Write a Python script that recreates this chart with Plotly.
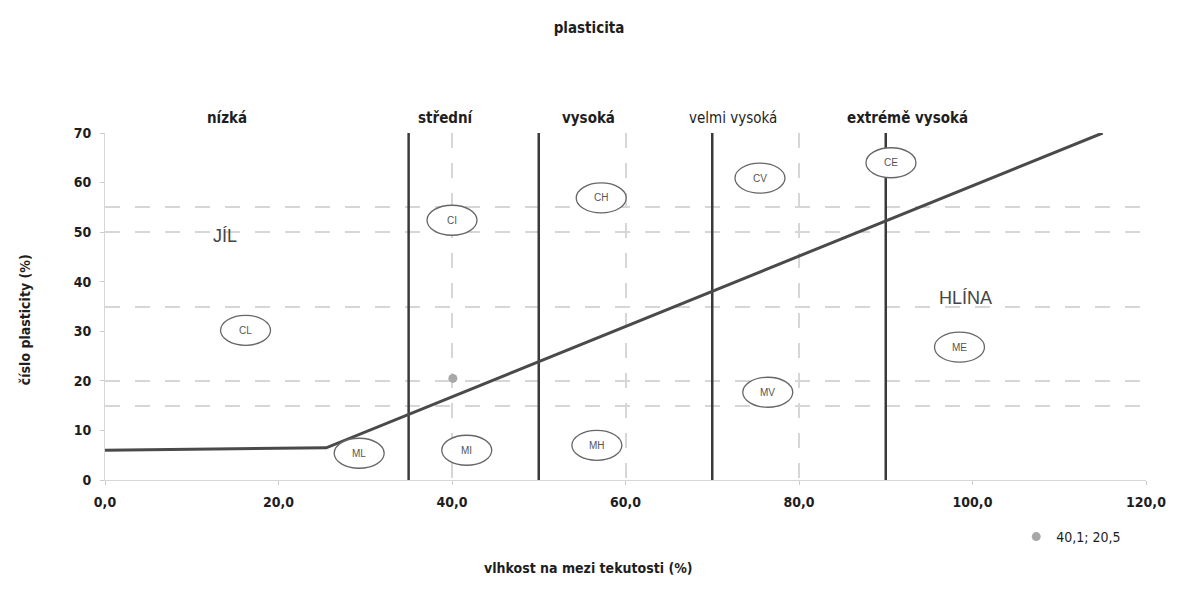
import plotly.graph_objects as go

# ---- data ----
x_ticks = [0, 20, 40, 60, 80, 100, 120]
x_ticktext = ["0,0", "20,0", "40,0", "60,0", "80,0", "100,0", "120,0"]
x_grid_levels = [40, 60, 80, 120]
y_ticks = [0, 10, 20, 30, 40, 50, 60, 70]
y_grid_levels = [0, 15, 20, 35, 50, 55, 70]

# A-line (boundary clay / silt)
aline_x = [0, 25.5, 115]
aline_y = [6, 6.5, 70]

# plasticity zone boundaries (liquid limit)
zone_bounds = [35, 50, 70, 90]
zone_names = ["nízká", "střední", "vysoká", "velmi vysoká", "extrémě vysoká"]
zone_label_x = [14.1, 39.3, 55.7, 72.4, 92.5]
zone_bold = [True, True, True, False, True]

# soil class labels (in ellipses)
cls_names = ["CL", "ML", "CI", "MI", "CH", "MH", "CV", "MV", "CE", "ME"]
cls_x = [16.2, 29.3, 40.0, 41.7, 57.2, 56.7, 75.5, 76.4, 90.6, 98.5]
cls_y = [30.2, 5.4, 52.4, 6.0, 56.9, 7.0, 60.9, 17.7, 64.0, 26.8]

# region names
region_names = ["JÍL", "HLÍNA"]
region_x = [13.8, 99.2]
region_y = [49.2, 36.7]

# measured sample
sample_x = [40.1]
sample_y = [20.5]
sample_label = "40,1; 20,5"

FONT = "DejaVu Sans Condensed, Liberation Sans Narrow, Arial Narrow, sans-serif"
PLAIN = "Liberation Sans, Arial, sans-serif"
TXT = "#1e1e1e"

# page body has an 8px margin; plot area is at page px x 105..1148, y 133..480
PW, PH = 1043, 347

fig = go.Figure()

# zone boundary lines
for b in zone_bounds:
    fig.add_trace(go.Scatter(x=[b, b], y=[0, 70], mode="lines",
                             line=dict(color="#3a3a3a", width=2.5),
                             showlegend=False, hoverinfo="skip"))

# A-line
fig.add_trace(go.Scatter(x=aline_x, y=aline_y, mode="lines",
                         line=dict(color="#4a4a4a", width=3),
                         showlegend=False, hoverinfo="skip"))

# sample point
fig.add_trace(go.Scatter(x=sample_x, y=sample_y, mode="markers",
                         marker=dict(color="#a8a8a8", size=9),
                         name=sample_label, showlegend=True))

# ellipses with class labels
for n, x, y in zip(cls_names, cls_x, cls_y):
    fig.add_shape(type="circle", xref="x", yref="y",
                  xsizemode="pixel", ysizemode="pixel",
                  xanchor=x, yanchor=y, x0=-25, x1=25, y0=-15, y1=15,
                  line=dict(color="#666666", width=1.3),
                  fillcolor="white", layer="above")
    fig.add_annotation(x=x, y=y, text=n, showarrow=False,
                       font=dict(family=PLAIN, size=10, color="#555555"))

# zone names above the plot
for n, x, b in zip(zone_names, zone_label_x, zone_bold):
    fig.add_annotation(x=x, xref="x", yref="paper", y=(480 - 107) / PH,
                       text=(f"<b>{n}</b>" if b else n), showarrow=False,
                       font=dict(family=FONT, size=15, color=TXT))

# region names
for n, x, y in zip(region_names, region_x, region_y):
    fig.add_annotation(x=x, y=y, text=n, showarrow=False,
                       font=dict(family=PLAIN, size=18, color="#444444"))

# axis titles
fig.add_annotation(xref="paper", yref="paper", x=(589 - 105) / PW,
                   y=(480 - 578) / PH, text="<b>vlhkost na mezi tekutosti (%)</b>",
                   showarrow=False, font=dict(family=FONT, size=14, color=TXT))
fig.add_annotation(xref="paper", yref="paper", x=(15 - 105) / PW,
                   y=(480 - 320) / PH, text="<b>číslo plasticity (%)</b>",
                   textangle=-90, showarrow=False,
                   font=dict(family=FONT, size=14, color=TXT))

W, H = 1170, 586
fig.update_layout(
    width=W, height=H,
    margin=dict(l=97, r=30, t=125, b=114),
    paper_bgcolor="white", plot_bgcolor="white",
    title=dict(text="<b>plasticita</b>", x=(589 - 8) / W, xref="container",
               y=1 - (28 - 8) / H, yref="container", xanchor="center", yanchor="middle",
               font=dict(family=FONT, size=15, color=TXT)),
    legend=dict(x=(1018 - 105) / PW, y=(480 - 537) / PH, xanchor="left",
                yanchor="middle", bgcolor="rgba(0,0,0,0)",
                font=dict(family=FONT, size=14, color=TXT),
                itemwidth=30),
    font=dict(family=FONT, color=TXT),
)

fig.update_xaxes(range=[0, 120], tickvals=x_ticks, ticktext=[f"<b>{t}</b>" for t in x_ticktext],
                 tickfont=dict(family=FONT, size=14, color=TXT),
                 showgrid=False,
                 minor=dict(tickvals=x_grid_levels, showgrid=True, gridcolor="#d6d6d6",
                            gridwidth=1.5, griddash="longdash", ticks=""),
                 showline=True, linecolor="#d6d6d6", linewidth=1,
                 ticks="outside", ticklen=4, tickcolor="#cccccc",
                 zeroline=False, ticklabelstandoff=5)
fig.update_yaxes(range=[0, 70], tickvals=y_ticks, ticktext=[f"<b>{t}</b>" for t in y_ticks],
                 tickfont=dict(family=FONT, size=14, color=TXT),
                 showgrid=False,
                 minor=dict(tickvals=y_grid_levels, showgrid=True, gridcolor="#d6d6d6",
                            gridwidth=1.5, griddash="longdash", ticks=""),
                 showline=True, linecolor="#d6d6d6", linewidth=1,
                 ticks="outside", ticklen=4, tickcolor="#cccccc",
                 zeroline=False, ticklabelstandoff=6)

fig.write_html("out.html")
